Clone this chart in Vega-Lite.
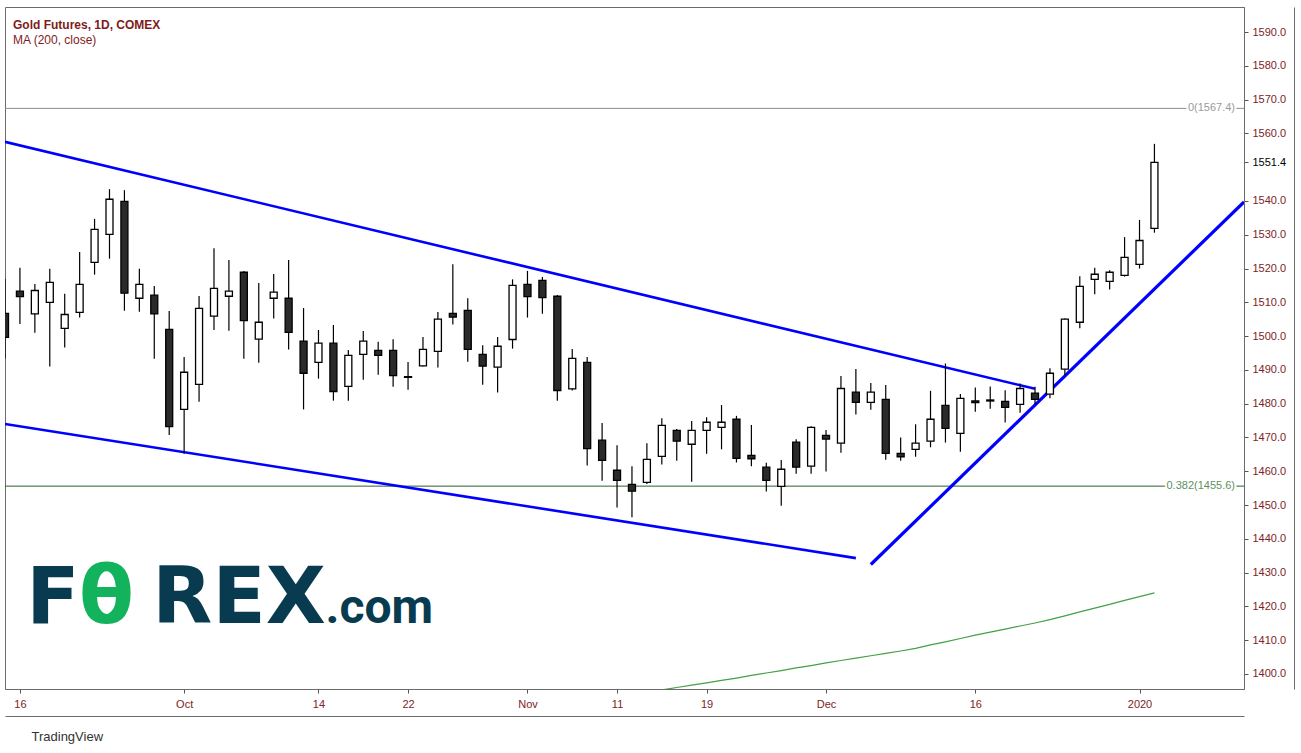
{
  "$schema": "https://vega.github.io/schema/vega-lite/v6.json",
  "width": 1239,
  "height": 682,
  "autosize": {"type": "none"},
  "padding": {"left": 5, "top": 7, "right": 57, "bottom": 64},
  "background": "#ffffff",
  "config": {"view": {"stroke": "#6b6b6b", "strokeWidth": 1}, "font": "Liberation Sans"},
  "title": {
    "text": "Gold Futures, 1D, COMEX",
    "subtitle": "MA (200, close)",
    "anchor": "start",
    "frame": "group",
    "orient": "top",
    "offset": -40,
    "dx": 8,
    "font": "Liberation Sans",
    "fontSize": 12,
    "fontWeight": "bold",
    "color": "#7e1b1b",
    "subtitleFont": "Liberation Sans",
    "subtitleFontSize": 12,
    "subtitleColor": "#7e1b1b",
    "subtitlePadding": 3
  },
  "data": {"values": [{}]},
  "datasets": {
    "candles": [
      {"date": "2019-09-13", "open": 1506.7, "high": 1516.9, "low": 1493.4, "close": 1499.6},
      {"date": "2019-09-16", "open": 1513.3, "high": 1520.2, "low": 1503.6, "close": 1511.7},
      {"date": "2019-09-17", "open": 1506.6, "high": 1515.4, "low": 1501.0, "close": 1513.5},
      {"date": "2019-09-18", "open": 1510.0, "high": 1519.9, "low": 1491.0, "close": 1515.9},
      {"date": "2019-09-19", "open": 1502.3, "high": 1512.5, "low": 1496.6, "close": 1506.4},
      {"date": "2019-09-20", "open": 1507.0, "high": 1524.9, "low": 1505.5, "close": 1515.3},
      {"date": "2019-09-23", "open": 1521.8, "high": 1534.7, "low": 1518.2, "close": 1531.6},
      {"date": "2019-09-24", "open": 1530.1, "high": 1543.5, "low": 1522.9, "close": 1540.5},
      {"date": "2019-09-25", "open": 1539.9, "high": 1543.2, "low": 1507.5, "close": 1512.7},
      {"date": "2019-09-26", "open": 1511.2, "high": 1519.9, "low": 1507.2, "close": 1515.3},
      {"date": "2019-09-27", "open": 1512.1, "high": 1514.8, "low": 1493.3, "close": 1506.6},
      {"date": "2019-09-30", "open": 1502.0, "high": 1507.4, "low": 1470.7, "close": 1473.2},
      {"date": "2019-10-01", "open": 1478.3, "high": 1493.8, "low": 1465.2, "close": 1489.3},
      {"date": "2019-10-02", "open": 1485.7, "high": 1511.9, "low": 1480.6, "close": 1508.2},
      {"date": "2019-10-03", "open": 1505.9, "high": 1526.0, "low": 1501.8, "close": 1514.1},
      {"date": "2019-10-04", "open": 1511.8, "high": 1522.5, "low": 1501.6, "close": 1513.3},
      {"date": "2019-10-07", "open": 1518.9, "high": 1519.3, "low": 1493.3, "close": 1504.6},
      {"date": "2019-10-08", "open": 1499.1, "high": 1515.7, "low": 1492.1, "close": 1504.1},
      {"date": "2019-10-09", "open": 1511.2, "high": 1518.4, "low": 1505.2, "close": 1513.0},
      {"date": "2019-10-10", "open": 1511.2, "high": 1522.5, "low": 1496.0, "close": 1501.1},
      {"date": "2019-10-11", "open": 1498.5, "high": 1508.3, "low": 1478.3, "close": 1489.0},
      {"date": "2019-10-14", "open": 1492.2, "high": 1501.8, "low": 1487.4, "close": 1497.9},
      {"date": "2019-10-15", "open": 1497.9, "high": 1503.3, "low": 1480.9, "close": 1483.6},
      {"date": "2019-10-16", "open": 1485.1, "high": 1495.9, "low": 1480.9, "close": 1494.3},
      {"date": "2019-10-17", "open": 1494.6, "high": 1501.5, "low": 1487.1, "close": 1498.5},
      {"date": "2019-10-18", "open": 1495.8, "high": 1498.3, "low": 1488.6, "close": 1494.3},
      {"date": "2019-10-21", "open": 1495.8, "high": 1499.1, "low": 1485.0, "close": 1488.3},
      {"date": "2019-10-22", "open": 1487.8, "high": 1492.3, "low": 1484.1, "close": 1488.0},
      {"date": "2019-10-23", "open": 1491.2, "high": 1499.7, "low": 1491.0, "close": 1496.1},
      {"date": "2019-10-24", "open": 1495.5, "high": 1507.1, "low": 1490.7, "close": 1505.0},
      {"date": "2019-10-25", "open": 1506.7, "high": 1521.3, "low": 1503.4, "close": 1505.6},
      {"date": "2019-10-28", "open": 1507.6, "high": 1511.2, "low": 1492.4, "close": 1496.1},
      {"date": "2019-10-29", "open": 1494.6, "high": 1497.3, "low": 1485.6, "close": 1491.1},
      {"date": "2019-10-30", "open": 1490.8, "high": 1499.7, "low": 1483.3, "close": 1497.0},
      {"date": "2019-10-31", "open": 1499.0, "high": 1516.8, "low": 1496.3, "close": 1515.0},
      {"date": "2019-11-01", "open": 1515.3, "high": 1519.3, "low": 1505.5, "close": 1511.7},
      {"date": "2019-11-04", "open": 1516.5, "high": 1517.5, "low": 1506.6, "close": 1511.4},
      {"date": "2019-11-05", "open": 1511.8, "high": 1512.2, "low": 1480.9, "close": 1483.9},
      {"date": "2019-11-06", "open": 1484.4, "high": 1496.2, "low": 1483.9, "close": 1493.4},
      {"date": "2019-11-07", "open": 1492.2, "high": 1493.8, "low": 1461.7, "close": 1466.7},
      {"date": "2019-11-08", "open": 1469.2, "high": 1474.3, "low": 1457.2, "close": 1463.2},
      {"date": "2019-11-11", "open": 1460.3, "high": 1467.7, "low": 1449.3, "close": 1457.3},
      {"date": "2019-11-12", "open": 1456.1, "high": 1461.5, "low": 1446.4, "close": 1454.1},
      {"date": "2019-11-13", "open": 1456.7, "high": 1468.3, "low": 1456.2, "close": 1463.5},
      {"date": "2019-11-14", "open": 1464.4, "high": 1475.7, "low": 1462.0, "close": 1473.6},
      {"date": "2019-11-15", "open": 1472.1, "high": 1472.5, "low": 1463.1, "close": 1468.9},
      {"date": "2019-11-18", "open": 1468.0, "high": 1474.9, "low": 1456.9, "close": 1472.1},
      {"date": "2019-11-19", "open": 1472.1, "high": 1476.0, "low": 1465.2, "close": 1474.5},
      {"date": "2019-11-20", "open": 1473.0, "high": 1479.6, "low": 1466.5, "close": 1474.5},
      {"date": "2019-11-21", "open": 1475.4, "high": 1476.4, "low": 1462.6, "close": 1463.8},
      {"date": "2019-11-22", "open": 1464.7, "high": 1473.7, "low": 1461.5, "close": 1463.7},
      {"date": "2019-11-25", "open": 1461.2, "high": 1462.5, "low": 1454.0, "close": 1457.3},
      {"date": "2019-11-26", "open": 1455.5, "high": 1463.3, "low": 1449.8, "close": 1460.6},
      {"date": "2019-11-27", "open": 1468.6, "high": 1469.5, "low": 1459.3, "close": 1461.2},
      {"date": "2019-11-29", "open": 1461.5, "high": 1473.3, "low": 1459.3, "close": 1473.0},
      {"date": "2019-12-02", "open": 1470.6, "high": 1472.2, "low": 1459.9, "close": 1469.5},
      {"date": "2019-12-03", "open": 1468.3, "high": 1488.2, "low": 1465.5, "close": 1484.5},
      {"date": "2019-12-04", "open": 1483.4, "high": 1490.3, "low": 1476.8, "close": 1480.4},
      {"date": "2019-12-05", "open": 1480.4, "high": 1486.1, "low": 1478.2, "close": 1483.4},
      {"date": "2019-12-06", "open": 1481.3, "high": 1485.5, "low": 1463.4, "close": 1465.3},
      {"date": "2019-12-09", "open": 1465.3, "high": 1470.0, "low": 1463.1, "close": 1464.3},
      {"date": "2019-12-10", "open": 1466.5, "high": 1473.9, "low": 1464.3, "close": 1468.3},
      {"date": "2019-12-11", "open": 1468.9, "high": 1483.8, "low": 1467.1, "close": 1475.4},
      {"date": "2019-12-12", "open": 1479.5, "high": 1491.9, "low": 1468.5, "close": 1472.7},
      {"date": "2019-12-13", "open": 1471.2, "high": 1482.9, "low": 1465.8, "close": 1481.6},
      {"date": "2019-12-16", "open": 1480.8, "high": 1484.8, "low": 1477.6, "close": 1480.3},
      {"date": "2019-12-17", "open": 1480.8, "high": 1485.1, "low": 1478.5, "close": 1481.1},
      {"date": "2019-12-18", "open": 1480.7, "high": 1484.0, "low": 1474.4, "close": 1478.9},
      {"date": "2019-12-19", "open": 1479.8, "high": 1486.0, "low": 1477.3, "close": 1484.5},
      {"date": "2019-12-20", "open": 1483.1, "high": 1485.0, "low": 1479.8, "close": 1481.3},
      {"date": "2019-12-23", "open": 1482.8, "high": 1490.5, "low": 1481.6, "close": 1489.0},
      {"date": "2019-12-24", "open": 1490.2, "high": 1505.3, "low": 1488.5, "close": 1505.0},
      {"date": "2019-12-26", "open": 1504.1, "high": 1517.7, "low": 1502.3, "close": 1514.7},
      {"date": "2019-12-27", "open": 1516.8, "high": 1520.2, "low": 1512.4, "close": 1518.3},
      {"date": "2019-12-30", "open": 1516.2, "high": 1519.5, "low": 1513.8, "close": 1518.9},
      {"date": "2019-12-31", "open": 1518.0, "high": 1529.3, "low": 1517.6, "close": 1523.3},
      {"date": "2020-01-02", "open": 1521.2, "high": 1534.4, "low": 1520.0, "close": 1528.3},
      {"date": "2020-01-03", "open": 1531.9, "high": 1556.9, "low": 1530.6, "close": 1551.4}
    ],
    "ma": [
      {"date": "2019-11-12", "ma": 1393.9},
      {"date": "2019-11-13", "ma": 1394.6},
      {"date": "2019-11-14", "ma": 1395.3},
      {"date": "2019-11-15", "ma": 1396.0},
      {"date": "2019-11-18", "ma": 1396.7},
      {"date": "2019-11-19", "ma": 1397.4},
      {"date": "2019-11-20", "ma": 1398.1},
      {"date": "2019-11-21", "ma": 1398.8},
      {"date": "2019-11-22", "ma": 1399.6},
      {"date": "2019-11-25", "ma": 1400.3},
      {"date": "2019-11-26", "ma": 1401.0},
      {"date": "2019-11-27", "ma": 1401.8},
      {"date": "2019-11-29", "ma": 1402.5},
      {"date": "2019-12-02", "ma": 1403.3},
      {"date": "2019-12-03", "ma": 1404.0},
      {"date": "2019-12-04", "ma": 1404.7},
      {"date": "2019-12-05", "ma": 1405.4},
      {"date": "2019-12-06", "ma": 1406.1},
      {"date": "2019-12-09", "ma": 1406.8},
      {"date": "2019-12-10", "ma": 1407.6},
      {"date": "2019-12-11", "ma": 1408.6},
      {"date": "2019-12-12", "ma": 1409.5},
      {"date": "2019-12-13", "ma": 1410.5},
      {"date": "2019-12-16", "ma": 1411.5},
      {"date": "2019-12-17", "ma": 1412.4},
      {"date": "2019-12-18", "ma": 1413.3},
      {"date": "2019-12-19", "ma": 1414.2},
      {"date": "2019-12-20", "ma": 1415.1},
      {"date": "2019-12-23", "ma": 1416.1},
      {"date": "2019-12-24", "ma": 1417.2},
      {"date": "2019-12-26", "ma": 1418.4},
      {"date": "2019-12-27", "ma": 1419.5},
      {"date": "2019-12-30", "ma": 1420.6},
      {"date": "2019-12-31", "ma": 1421.8},
      {"date": "2020-01-02", "ma": 1422.9},
      {"date": "2020-01-03", "ma": 1424.0}
    ],
    "trend": [
      {"line": "upper", "date": "2019-09-13", "price": 1557.5},
      {"line": "upper", "date": "2019-12-20", "price": 1484.4},
      {"line": "lower", "date": "2019-09-13", "price": 1474.0},
      {"line": "lower", "date": "2019-12-04", "price": 1434.3},
      {"line": "up", "date": "2019-12-05", "price": 1432.4},
      {"line": "up", "date": "2020-01-13", "price": 1539.7}
    ]
  },
  "resolve": {"axis": {"x": "independent", "y": "independent"}},
  "layer": [
    {
      "mark": {"type": "rule", "color": "#8c8c8c", "strokeWidth": 1},
      "encoding": {"y": {"datum": 1567.4, "type": "quantitative", "axis": null, "scale": {"domain": [1395.56, 1597.4], "zero": false, "nice": false}}}
    },
    {
      "mark": {"type": "rule", "color": "#2e5e2e", "strokeWidth": 1},
      "encoding": {"y": {"datum": 1455.6, "type": "quantitative", "axis": null}}
    },
    {
      "mark": {"type": "text", "text": "F", "align": "right", "baseline": "alphabetic", "font": "DejaVu Sans", "fontSize": 78, "fontWeight": "bold", "color": "#083b50"},
      "encoding": {
        "x": {"datum": "2019-09-20", "type": "ordinal", "axis": null},
        "y": {"datum": 1415, "type": "quantitative", "axis": null}
      }
    },
    {
      "mark": {"type": "text", "text": "θ", "align": "center", "baseline": "alphabetic", "dx": -3, "font": "DejaVu Sans", "fontSize": 80, "fontWeight": "bold", "color": "#12b35c"},
      "encoding": {
        "x": {"datum": "2019-09-24", "type": "ordinal", "axis": null},
        "y": {"datum": 1415, "type": "quantitative", "axis": null}
      }
    },
    {
      "mark": {"type": "text", "text": "REX", "align": "left", "baseline": "alphabetic", "dx": 13, "font": "DejaVu Sans", "fontSize": 78, "fontWeight": "bold", "color": "#083b50"},
      "encoding": {
        "x": {"datum": "2019-09-26", "type": "ordinal", "axis": null},
        "y": {"datum": 1415, "type": "quantitative", "axis": null}
      }
    },
    {
      "mark": {"type": "text", "text": ".com", "align": "left", "baseline": "alphabetic", "dx": 7, "font": "Roboto", "fontSize": 48, "fontWeight": "bold", "color": "#083b50"},
      "encoding": {
        "x": {"datum": "2019-10-14", "type": "ordinal", "axis": null},
        "y": {"datum": 1415, "type": "quantitative", "axis": null}
      }
    },
    {
      "data": {"name": "ma"},
      "mark": {"type": "line", "color": "#43a047", "strokeWidth": 1.2, "clip": true},
      "encoding": {
        "x": {"field": "date", "type": "ordinal", "axis": {"orient": "bottom", "offset": 27, "labels": false, "ticks": false, "grid": false, "title": null, "domainColor": "#6b6b6b"}},
        "y": {"field": "ma", "type": "quantitative", "axis": {"orient": "right", "offset": 50, "labels": false, "ticks": false, "grid": false, "title": null, "domainColor": "#6b6b6b"}}
      }
    },
    {
      "data": {"name": "trend"},
      "mark": {"type": "line", "color": "#0000ff", "clip": true},
      "encoding": {
        "x": {"field": "date", "type": "ordinal", "axis": null},
        "y": {"field": "price", "type": "quantitative", "axis": null},
        "detail": {"field": "line"},
        "strokeWidth": {"condition": {"test": "datum.line == 'up'", "value": 3.2}, "value": 2.6}
      }
    },
    {
      "data": {"name": "candles"},
      "mark": {"type": "rule", "color": "#000000", "strokeWidth": 1.2, "clip": true},
      "encoding": {
        "x": {
          "field": "date", "type": "ordinal",
          "scale": {"type": "point", "padding": 0, "domain": ["2019-09-13","2019-09-16","2019-09-17","2019-09-18","2019-09-19","2019-09-20","2019-09-23","2019-09-24","2019-09-25","2019-09-26","2019-09-27","2019-09-30","2019-10-01","2019-10-02","2019-10-03","2019-10-04","2019-10-07","2019-10-08","2019-10-09","2019-10-10","2019-10-11","2019-10-14","2019-10-15","2019-10-16","2019-10-17","2019-10-18","2019-10-21","2019-10-22","2019-10-23","2019-10-24","2019-10-25","2019-10-28","2019-10-29","2019-10-30","2019-10-31","2019-11-01","2019-11-04","2019-11-05","2019-11-06","2019-11-07","2019-11-08","2019-11-11","2019-11-12","2019-11-13","2019-11-14","2019-11-15","2019-11-18","2019-11-19","2019-11-20","2019-11-21","2019-11-22","2019-11-25","2019-11-26","2019-11-27","2019-11-29","2019-12-02","2019-12-03","2019-12-04","2019-12-05","2019-12-06","2019-12-09","2019-12-10","2019-12-11","2019-12-12","2019-12-13","2019-12-16","2019-12-17","2019-12-18","2019-12-19","2019-12-20","2019-12-23","2019-12-24","2019-12-26","2019-12-27","2019-12-30","2019-12-31","2020-01-02","2020-01-03","2020-01-06","2020-01-07","2020-01-08","2020-01-09","2020-01-10","2020-01-13"]},
          "axis": {
            "orient": "bottom",
            "values": ["2019-09-16","2019-10-01","2019-10-14","2019-10-22","2019-11-01","2019-11-11","2019-11-19","2019-12-02","2019-12-16","2020-01-02"],
            "labelExpr": "datum.value == '2019-10-01' ? 'Oct' : datum.value == '2019-11-01' ? 'Nov' : datum.value == '2019-12-02' ? 'Dec' : datum.value == '2020-01-02' ? '2020' : substring(datum.value, 8, 10)",
            "labelAngle": 0,
            "labelColor": "#7d2424",
            "labelFont": "Liberation Sans",
            "labelFontSize": 11,
            "labelOverlap": false,
            "labelPadding": 5,
            "tickSize": 4,
            "tickColor": "#555555",
            "domainColor": "#6b6b6b",
            "grid": false,
            "title": "TradingView",
            "titleX": 26,
            "titleY": 51,
            "titleAlign": "left",
            "titleAnchor": "start",
            "titleBaseline": "alphabetic",
            "titleFont": "Liberation Sans",
            "titleFontSize": 13,
            "titleFontWeight": "normal",
            "titleColor": "#333333"
          }
        },
        "y": {
          "field": "low", "type": "quantitative",
          "scale": {"domain": [1395.56, 1597.4], "zero": false, "nice": false},
          "axis": {
            "orient": "right",
            "values": [1400, 1410, 1420, 1430, 1440, 1450, 1460, 1470, 1480, 1490, 1500, 1510, 1520, 1530, 1540, 1551.4, 1560, 1570, 1580, 1590],
            "format": ".1f",
            "labelColor": {"condition": {"test": "datum.value == 1551.4", "value": "#000000"}, "value": "#7d2424"},
            "labelFont": "Liberation Sans",
            "labelFontSize": 11,
            "labelOverlap": false,
            "labelPadding": 4,
            "tickSize": 4,
            "tickColor": "#555555",
            "domainColor": "#6b6b6b",
            "grid": false,
            "title": null
          }
        },
        "y2": {"field": "high"}
      }
    },
    {
      "data": {"name": "candles"},
      "mark": {"type": "bar", "width": 7, "stroke": "#000000", "strokeWidth": 1.3, "clip": true},
      "encoding": {
        "x": {"field": "date", "type": "ordinal", "axis": null},
        "y": {"field": "open", "type": "quantitative", "axis": null},
        "y2": {"field": "close"},
        "fill": {"condition": {"test": "datum.close < datum.open", "value": "#2a2a2a"}, "value": "#ffffff"}
      }
    },
    {
      "mark": {"type": "text", "text": "0(1567.4)", "align": "right", "baseline": "middle", "dx": -9, "font": "Liberation Sans", "fontSize": 11, "fill": "#ffffff", "stroke": "#ffffff", "strokeWidth": 4},
      "encoding": {
        "x": {"datum": "2020-01-13", "type": "ordinal", "axis": null},
        "y": {"datum": 1567.4, "type": "quantitative", "axis": null}
      }
    },
    {
      "mark": {"type": "text", "text": "0(1567.4)", "align": "right", "baseline": "middle", "dx": -9, "font": "Liberation Sans", "fontSize": 11, "fill": "#9a9a9a"},
      "encoding": {
        "x": {"datum": "2020-01-13", "type": "ordinal", "axis": null},
        "y": {"datum": 1567.4, "type": "quantitative", "axis": null}
      }
    },
    {
      "mark": {"type": "text", "text": "0.382(1455.6)", "align": "right", "baseline": "middle", "dx": -9, "font": "Liberation Sans", "fontSize": 11, "fill": "#ffffff", "stroke": "#ffffff", "strokeWidth": 4},
      "encoding": {
        "x": {"datum": "2020-01-13", "type": "ordinal", "axis": null},
        "y": {"datum": 1455.6, "type": "quantitative", "axis": null}
      }
    },
    {
      "mark": {"type": "text", "text": "0.382(1455.6)", "align": "right", "baseline": "middle", "dx": -9, "font": "Liberation Sans", "fontSize": 11, "fill": "#5f8f5f"},
      "encoding": {
        "x": {"datum": "2020-01-13", "type": "ordinal", "axis": null},
        "y": {"datum": 1455.6, "type": "quantitative", "axis": null}
      }
    }
  ]
}
